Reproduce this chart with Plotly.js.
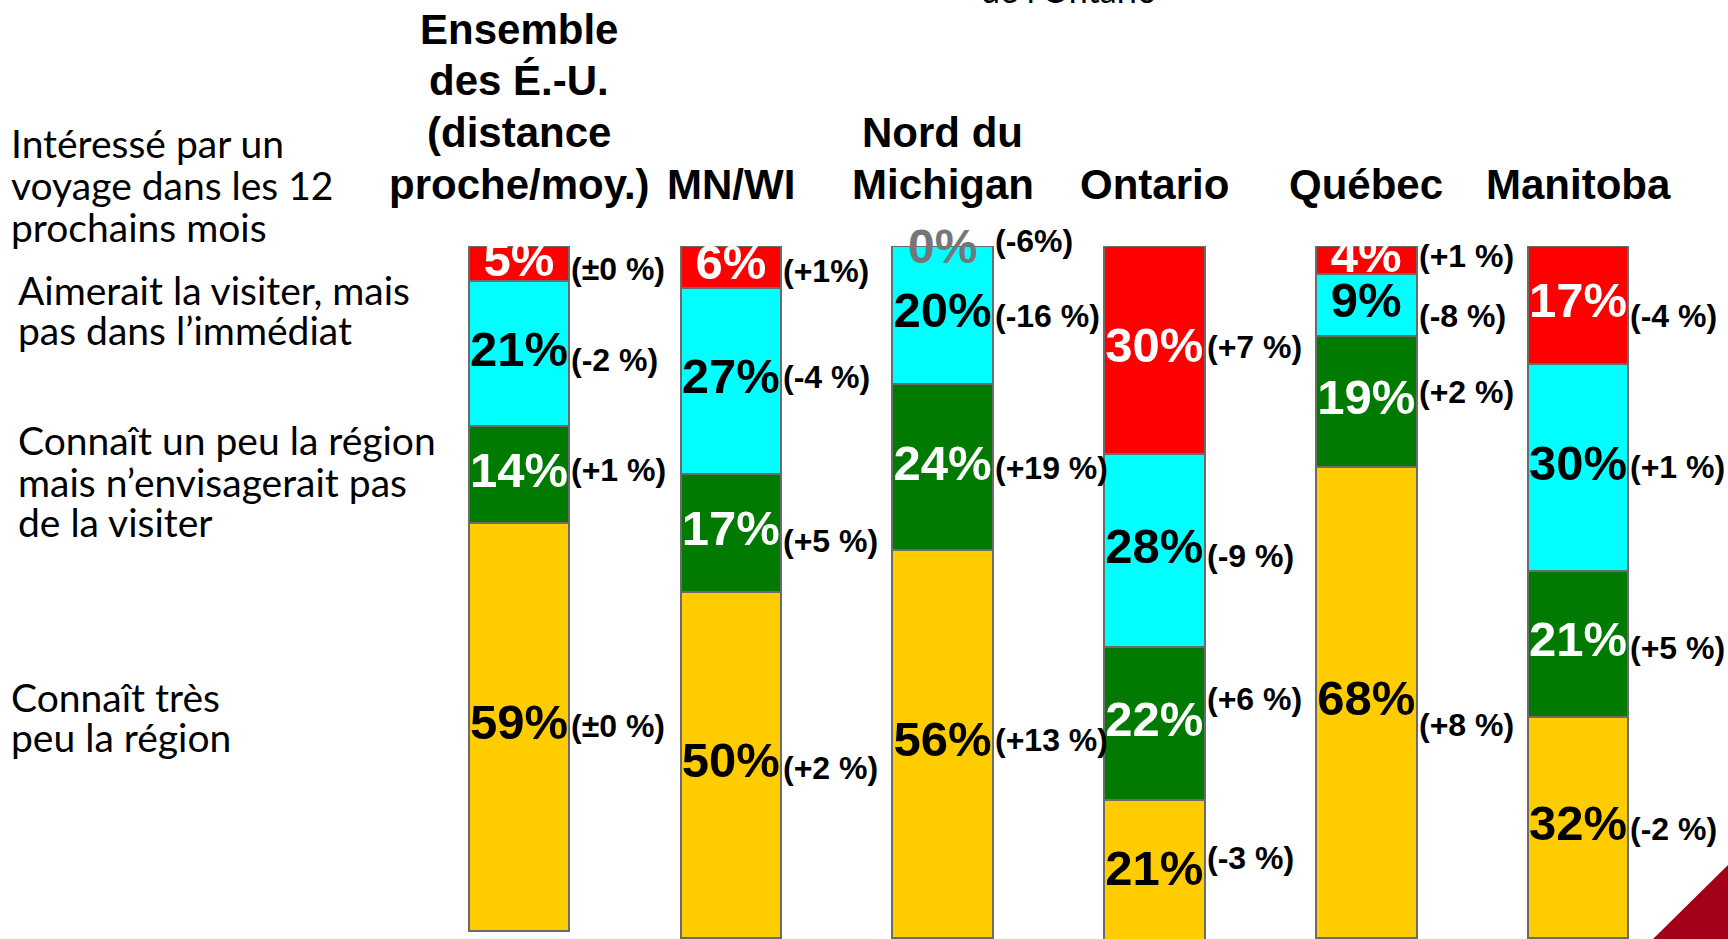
<!DOCTYPE html>
<html><head><meta charset="utf-8">
<script src="https://cdn.plot.ly/plotly-3.0.1.min.js"></script>
<style>html,body{margin:0;padding:0;background:#fff;overflow:hidden}#chart{width:1728px;height:939px}</style>
</head><body><div id="chart"></div>
<script>
// ---------- data ----------
const regions = ["Ensemble des É.-U. (distance proche/moy.)", "MN/WI", "Nord du Michigan", "Ontario", "Québec", "Manitoba"];
const headerLines = [["Ensemble", "des É.-U.", "(distance", "proche/moy.)"], ["MN/WI"], ["Nord du", "Michigan"], ["Ontario"], ["Québec"], ["Manitoba"]];
const seriesNames = [
  "Intéressé par un voyage dans les 12 prochains mois",
  "Aimerait la visiter, mais pas dans l’immédiat",
  "Connaît un peu la région mais n’envisagerait pas de la visiter",
  "Connaît très peu la région"
];
const seriesLines = [
  ["Intéressé par un", "voyage dans les 12", "prochains mois"],
  ["Aimerait la visiter, mais", "pas dans l’immédiat"],
  ["Connaît un peu la région", "mais n’envisagerait pas", "de la visiter"],
  ["Connaît très", "peu la région"]
];
const interested  = [5, 6, 0, 30, 4, 17];
const wouldVisit  = [21, 27, 20, 28, 9, 30];
const knowsSome   = [14, 17, 24, 22, 19, 21];
const knowsLittle = [59, 50, 56, 21, 68, 32];
const interestedChg  = ["(±0 %)", "(+1%)", "(-6%)", "(+7 %)", "(+1 %)", "(-4 %)"];
const wouldVisitChg  = ["(-2 %)", "(-4 %)", "(-16 %)", "(-9 %)", "(-8 %)", "(+1 %)"];
const knowsSomeChg   = ["(+1 %)", "(+5 %)", "(+19 %)", "(+6 %)", "(+2 %)", "(+5 %)"];
const knowsLittleChg = ["(±0 %)", "(+2 %)", "(+13 %)", "(-3 %)", "(+8 %)", "(-2 %)"];
const partialTitle = "de l’Ontario";

// ---------- layout / style ----------
const W = 1728, H = 939, T = 246, PX_PER = 6.92;
const C0 = 519, SPACING = 211.8, BAR_W = 0.475;
const plotH = H - T;
const paperY = Y => (H - Y) / plotH;
const paperX = X => X / W;

const series = [interested, wouldVisit, knowsSome, knowsLittle];
const changes = [interestedChg, wouldVisitChg, knowsSomeChg, knowsLittleChg];
const fills = ["#FF0000", "#00FFFF", "#007A00", "#FFCC00"];
const txtCol = ["#FFFFFF", "#000000", "#FFFFFF", "#000000"];
// small manual vertical nudges of the change labels (px, positive = down)
const nudge = [
  [6, 4, -5, -3, -4, 11],
  [7, -4, 1, 6, 11, 0],
  [-4, 8, 1, -24, -10, 4],
  [-1, 3, -4, -14, 22, 2]
];
const BOLD = "Liberation Sans, Arial, sans-serif";
const xs = regions.map((_, i) => i);

const traces = [];
const annotations = [];
series.forEach((vals, s) => {
  traces.push({
    type: "bar", x: xs, y: vals, name: seriesNames[s], width: BAR_W,
    marker: { color: fills[s], line: { color: "#6b6b6b", width: 2 } },
    hoverinfo: "skip"
  });
});
// cumulative bases
const bases = series.map((vals, s) => vals.map((v, i) => {
  let b = 0; for (let k = 0; k < s; k++) b += series[k][i]; return b;
}));
series.forEach((vals, s) => {
  const tx = [], ty = [], tt = [];
  vals.forEach((v, i) => {
    const mid = bases[s][i] + v / 2;
    if (v > 0) { tx.push(i); ty.push(mid); tt.push(v + "%"); }
    else {
      annotations.push({ x: i, y: mid, xref: "x", yref: "y", text: v + "%", showarrow: false,
        xanchor: "center", yanchor: "middle",
        font: { family: BOLD, size: 48, color: "#767676", weight: 700 } });
    }
    annotations.push({ x: i + BAR_W / 2, y: mid, xref: "x", yref: "y", text: changes[s][i],
      showarrow: false, xanchor: "left", yanchor: "middle", xshift: 0, yshift: -nudge[s][i],
      font: { family: BOLD, size: 32, color: "#000000", weight: 700 } });
  });
  traces.push({
    type: "scatter", mode: "text", x: tx, y: ty, text: tt, cliponaxis: true,
    textposition: "middle center", hoverinfo: "skip", showlegend: false,
    textfont: { family: BOLD, size: 49, color: txtCol[s], weight: 700 }
  });
});

// headers above the bars
headerLines.forEach((lines, i) => {
  const n = lines.length;
  lines.forEach((ln, k) => {
    const Y = 185 - 52 * (n - 1 - k);
    annotations.push({ x: i, y: paperY(Y), xref: "x", yref: "paper", text: ln, showarrow: false,
      xanchor: "center", yanchor: "middle",
      font: { family: BOLD, size: 42, color: "#000000", weight: 700 } });
  });
});

// left labels (series names)
const leftPos = [
  { x: 9, ys: [143, 185, 227] },
  { x: 16, ys: [290, 330] },
  { x: 16, ys: [440, 482, 522] },
  { x: 9, ys: [697, 737] }
];
seriesLines.forEach((lines, s) => {
  lines.forEach((ln, k) => {
    annotations.push({ x: paperX(leftPos[s].x), y: paperY(leftPos[s].ys[k]), xref: "paper", yref: "paper",
      text: ln, showarrow: false, xanchor: "left", yanchor: "middle",
      font: { family: "Lato, Open Sans, sans-serif", size: 39, color: "#000000" } });
  });
});

// partially visible title at the very top
annotations.push({ x: paperX(1069), y: paperY(-11), xref: "paper", yref: "paper", text: partialTitle,
  showarrow: false, xanchor: "center", yanchor: "middle",
  font: { family: "Lato, sans-serif", size: 34, color: "#000000" } });

const layout = {
  width: W, height: H,
  margin: { l: 0, r: 0, t: T, b: 0, pad: 0 },
  paper_bgcolor: "#FFFFFF", plot_bgcolor: "rgba(0,0,0,0)",
  barmode: "stack", showlegend: false,
  xaxis: { range: [-C0 / SPACING, (W - C0) / SPACING], visible: false, fixedrange: true },
  yaxis: { range: [plotH / PX_PER, 0], visible: false, fixedrange: true },
  annotations: annotations,
  shapes: [{
    type: "path", xref: "paper", yref: "paper", layer: "above",
    path: `M ${paperX(1653)} ${paperY(939)} L ${paperX(1728)} ${paperY(865)} L ${paperX(1728)} ${paperY(939)} Z`,
    fillcolor: "#A3001A", line: { width: 0 }
  }]
};
Plotly.newPlot("chart", traces, layout, { staticPlot: true, displayModeBar: false });
</script>
</body></html>
